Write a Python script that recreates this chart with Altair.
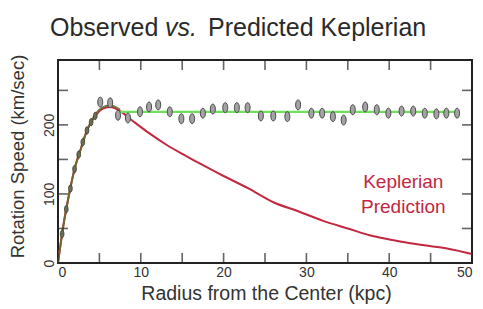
import altair as alt
import pandas as pd

# ---- data ----
kep_r = [0, 0.7, 1.3, 2.0, 2.8, 3.5, 4.5, 5.5, 6.3, 7.5, 9, 11, 13, 15, 17, 20, 23, 26, 29, 32, 35, 38, 41, 44, 47, 50]
kep_v = [0, 58, 97, 136, 167, 192, 213, 224, 226, 220, 206, 188, 172, 158, 145, 126, 108, 88, 75, 61, 50, 39, 32, 26, 21, 13]

rise_r = [0, 0.7, 1.3, 2.0, 2.8, 3.5, 4.5, 5.5, 6.3, 7.5]
rise_v = [0, 58, 97, 136, 167, 192, 215, 226, 228, 222]

flat_r = [7.5, 48.5]
flat_v = [219, 219]

inner_r = [0.5, 1.0, 1.5, 2.0, 2.5, 3.0, 3.5, 4.0, 4.5]
inner_v = [42, 78, 108, 136, 157, 175, 192, 204, 213]

obs_r = [5.1, 6.3, 7.25, 8.45, 9.9, 11.0, 12.1, 13.5, 14.9, 16.2, 17.5, 18.7, 20.2, 21.6, 22.9,
         24.5, 26.0, 27.7, 29.0, 30.6, 31.9, 33.2, 34.5, 35.6, 37.1, 38.5, 39.9, 41.5, 42.9,
         44.3, 45.7, 46.9, 48.2]
obs_v = [233, 232, 214, 210, 219, 226, 229, 219, 209, 209, 217, 223, 225, 225, 225,
         213, 213, 212, 229, 217, 217, 212, 207, 222, 226, 222, 217, 220, 220,
         217, 216, 217, 217]

title_parts = ["Observed", "vs.", "Predicted Keplerian"]
note_text = ["Keplerian", "Prediction"]
note_r = [41.7, 41.7]
note_v = [109, 73]

x_label_vals = [0, 10, 20, 30, 40, 50]
y_label_vals = [0, 100, 200]
x_tick_vals = [0, 5, 10, 15, 20, 25, 30, 35, 40, 45, 50]
y_tick_vals = [0, 50, 100, 150, 200, 250]

W, H = 414, 203
FONT = "Liberation Sans"
RED = "#c2283f"
GREEN = "#6ee05a"

xs = alt.Scale(domain=[0, 50], nice=False, zero=False)
ys = alt.Scale(domain=[0, 294], nice=False, zero=False)

kep = pd.DataFrame({"r": kep_r, "v": kep_v})
rise = pd.DataFrame({"r": rise_r, "v": rise_v})
flat = pd.DataFrame({"r": flat_r, "v": flat_v})
inner = pd.DataFrame({"r": inner_r, "v": inner_v})
obs = pd.DataFrame({"r": obs_r, "v": obs_v})
notes = pd.DataFrame({"r": note_r, "v": note_v, "t": note_text})
xt = pd.DataFrame({"r": x_tick_vals})
yt = pd.DataFrame({"v": y_tick_vals})

X = alt.X("r:Q", scale=xs)
Y = alt.Y("v:Q", scale=ys)

base_axes = alt.Chart(kep).mark_line(color=RED, strokeWidth=2, interpolate="monotone").encode(
    x=alt.X("r:Q", scale=xs, axis=alt.Axis(
        values=x_label_vals, title="Radius from the Center (kpc)",
        labelFontSize=14, labelPadding=2, titleFontSize=19.5,
        titleBaseline="alphabetic", titleY=36, titleX=W / 2 + 1)),
    y=alt.Y("v:Q", scale=ys, axis=alt.Axis(
        values=y_label_vals, title="Rotation Speed (km/sec)",
        labelAngle=270, labelAlign="center", labelBaseline="alphabetic",
        labelPadding=5, labelFontSize=14, titleFontSize=18.5,
        titleAngle=270, titleAlign="center", titleBaseline="middle",
        titleX=-41, titleY=96)),
)

flat_line = alt.Chart(flat).mark_line(color=GREEN, strokeWidth=2.2).encode(x=X, y=Y)

rise_line = alt.Chart(rise).mark_line(color="#6b6a2c", strokeWidth=2, opacity=0.9,
                                      interpolate="monotone").encode(x=X, y=Y)

ellipse = "M0,-1A0.5,1,0,1,1,0,1A0.5,1,0,1,1,0,-1Z"
inner_pts = alt.Chart(inner).mark_point(
    shape=ellipse, filled=True, fill="#6e6e55", stroke="#3a3a2a",
    strokeWidth=0.8, size=55, opacity=1).encode(x=X, y=Y)
points = alt.Chart(obs).mark_point(
    shape=ellipse, filled=True, fill="#a3a3a3", stroke="#4a4a4a",
    strokeWidth=1, size=100, opacity=1).encode(x=X, y=Y)

note = alt.Chart(notes).mark_text(
    font=FONT, fontSize=19, color=RED, align="center", baseline="alphabetic").encode(
    x=X, y=Y, text="t:N")

tick_style = dict(size=10, thickness=1.6, color="#222")
left_ticks = alt.Chart(yt).mark_tick(orient="horizontal", **tick_style).encode(
    y=Y, x=alt.value(5))
right_ticks = alt.Chart(yt).mark_tick(orient="horizontal", **tick_style).encode(
    y=Y, x=alt.value(W - 5))
bottom_ticks = alt.Chart(xt).mark_tick(orient="vertical", **tick_style).encode(
    x=X, y=alt.value(H - 5))
top_ticks = alt.Chart(xt).mark_tick(orient="vertical", **tick_style).encode(
    x=X, y=alt.value(5))

def title_piece(i, x, italic=False):
    d = pd.DataFrame({"t": [title_parts[i]]})
    return alt.Chart(d).mark_text(
        font=FONT, fontSize=25, color="#2a2a2a", align="left", baseline="alphabetic",
        fontStyle="italic" if italic else "normal").encode(
        text="t:N", x=alt.value(x), y=alt.value(-24))

t1 = title_piece(0, -8)
t2 = title_piece(1, 107, italic=True)
t3 = title_piece(2, 150)

chart = alt.layer(
    base_axes, flat_line, rise_line, inner_pts, points, note,
    left_ticks, right_ticks, bottom_ticks, top_ticks, t1, t2, t3,
).properties(
    width=W, height=H,
    autosize=alt.AutoSizeParams(type="none"),
    padding={"left": 50, "top": 52, "right": 3, "bottom": 46},
    background="white",
).configure_view(
    stroke="#222", strokeWidth=2
).configure_axis(
    domain=False, ticks=False, tickSize=0, grid=False,
    labelFont=FONT, titleFont=FONT, labelColor="#333", titleColor="#333",
    titleFontWeight="normal"
)

chart.save("out.html", embed_options={"renderer": "svg", "actions": False})
